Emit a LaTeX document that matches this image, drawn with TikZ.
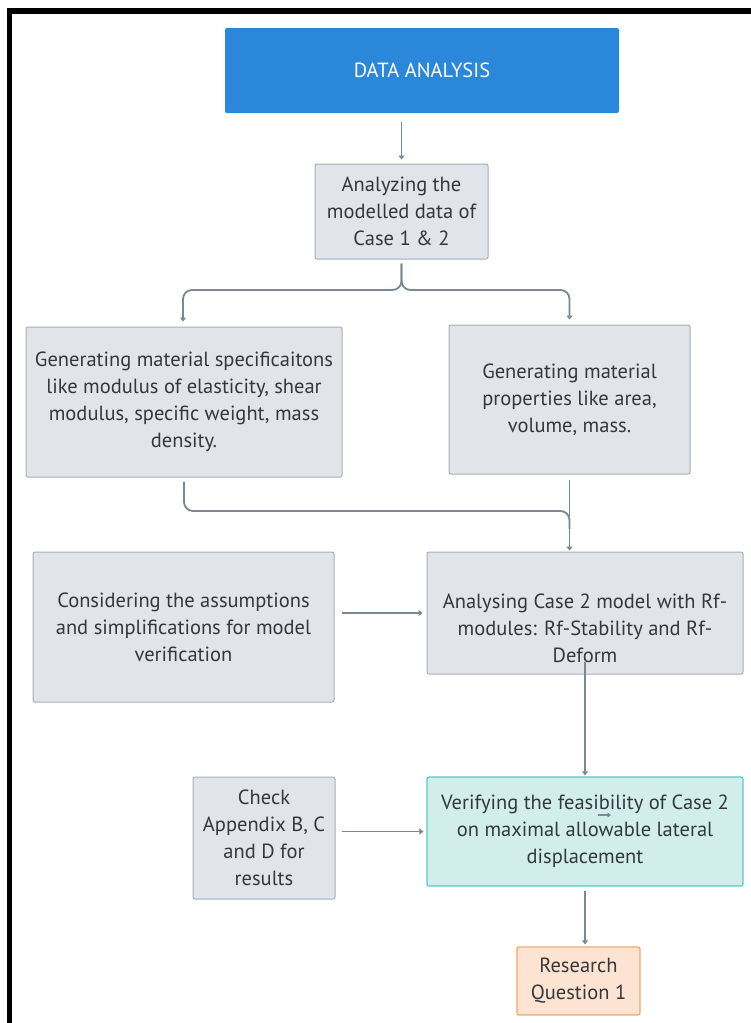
\documentclass[tikz,border=0pt]{standalone}
\usepackage{fontspec}
\setmainfont{PT Sans}
\usetikzlibrary{arrows.meta}
\definecolor{headblue}{HTML}{2B87D9}
\definecolor{boxfill}{HTML}{E1E4E8}
\definecolor{boxline}{HTML}{A8AFB8}
\definecolor{tealfill}{HTML}{D1EEEC}
\definecolor{tealline}{HTML}{5CC9BC}
\definecolor{peachfill}{HTML}{FDE3D1}
\definecolor{peachline}{HTML}{F2A772}
\definecolor{wire}{HTML}{7B8794}
\definecolor{ink}{HTML}{33383D}
\begin{document}
\begin{tikzpicture}[x=1pt,y=-1pt,
  every node/.style={font=\fontsize{20.5}{27}\selectfont, text=ink, align=center, inner sep=0pt},
  card/.style={draw=boxline, fill=boxfill, line width=1pt, rounded corners=2pt},
  headcard/.style={fill=headblue, rounded corners=2pt, text=white, font=\fontsize{20.5}{27}\selectfont},
  tealcard/.style={draw=tealline, fill=tealfill, line width=1.2pt, rounded corners=2pt},
  peachcard/.style={draw=peachline, fill=peachfill, line width=1.2pt, rounded corners=2pt},
  wireline/.style={draw=wire, line width=1.8pt},
  flow/.style={wireline, -{Triangle[width=6pt,length=4pt]}},
  frame/.style={line width=5.5pt, black}]
\useasboundingbox (0,0) rectangle (751,1023);
\fill[white] (0,0) rectangle (751,1023);

% outer frame: top and left edges only
\draw[frame] (9.5,1023) -- (9.5,11) -- (751,11);

% boxes
\node[headcard, minimum width=394pt, minimum height=85pt] (da) at (422,70.5) {DATA ANALYSIS};
\node[card, minimum width=173pt, minimum height=95pt] (an) at (401.5,211.5)
  {Analyzing the\\modelled data of\\Case 1 \& 2};
\node[card, minimum width=316pt, minimum height=150pt] (gs) at (184,402)
  {Generating material specificaitons\\like modulus of elasticity, shear\\modulus, specific weight, mass\\density.};
\node[card, minimum width=241pt, minimum height=149pt] (gp) at (569.5,399.5)
  {Generating material\\properties like area,\\volume, mass.};
\node[card, minimum width=301pt, minimum height=150pt] (co) at (183.5,627)
  {Considering the assumptions\\and simplifications for model\\verification};
\node[card, minimum width=316pt, minimum height=122pt] (ac) at (585,613) {};
\node (actext) at (585,628) {Analysing Case 2 model with Rf-\\modules: Rf-Stability and Rf-\\Deform};
\node[card, minimum width=142pt, minimum height=122pt] (ch) at (264,838)
  {Check\\Appendix B, C\\and D for\\results};
\node[tealcard, minimum width=316pt, minimum height=109pt] (ve) at (585,831.5)
  {Verifying the feasibility of Case 2\\on maximal allowable lateral\\displacement};
\node[peachcard, minimum width=123pt, minimum height=68pt] (rq) at (578.5,981)
  {Research\\Question 1};

% helper points
\coordinate (split) at (401.5,290);
\coordinate (merge) at (569.5,511);
\coordinate (acout) at (585,662);
\coordinate (tickA) at (598,815);
\coordinate (tickB) at (611,815);

% connectors
\draw[flow, shorten <=9pt, shorten >=4pt] (an.north |- da.south) -- (an.north);
\draw[flow, rounded corners=9pt, shorten <=4pt, shorten >=5pt] (an.south) -- (split) -| (gs.north -| 183,0);
\draw[flow, rounded corners=9pt, shorten <=4pt, shorten >=5pt] (an.south) -- (split) -| (gp.north);
\draw[wireline, rounded corners=9pt, shorten <=4pt] (gs.south) |- (merge) -- ++(0,18);
\draw[flow, shorten <=5pt, shorten >=1pt] (gp.south) -- (gp.south |- ac.north);
\draw[flow, shorten >=4pt] ([xshift=7pt]co.east |- ac.west) -- (ac.west);
\draw[flow, shorten >=1pt] (acout) -- (ve.north);
\draw[flow, shorten >=3pt] ([xshift=6pt]ch.east |- ve.west) -- (ve.west);
\draw[flow, shorten <=4pt, shorten >=2pt] (ve.south) -- (ve.south |- rq.north);
\draw[wire, line width=1.2pt, -{Triangle[width=5pt,length=3.5pt]}] (tickA) -- (tickB);
\end{tikzpicture}
\end{document}
